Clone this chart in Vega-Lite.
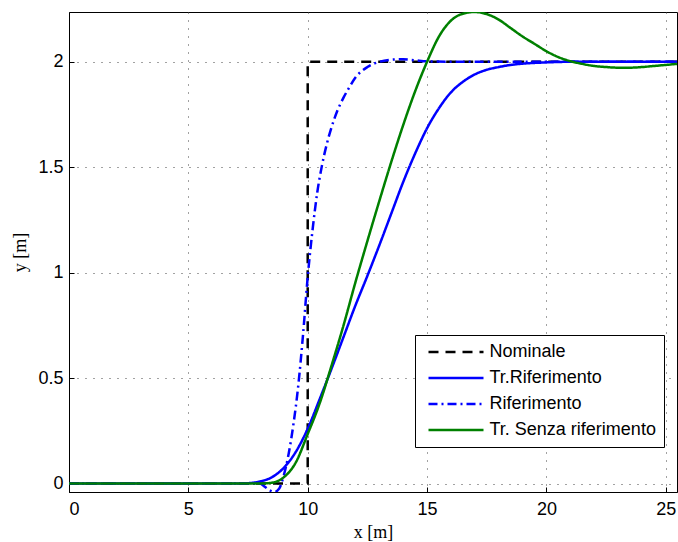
{
  "$schema": "https://vega.github.io/schema/vega-lite/v6.json",
  "width": 608,
  "height": 480,
  "autosize": "none",
  "padding": {"left": 69, "top": 12, "right": 1, "bottom": 50},
  "background": "white",
  "config": {
    "view": {"stroke": "black", "strokeWidth": 1},
    "font": "Liberation Sans",
    "legend": {
      "orient": "none", "legendX": 346, "legendY": 323,
      "strokeColor": "black", "fillColor": "white", "padding": 8,
      "labelFont": "Liberation Sans", "labelFontSize": 18, "labelColor": "black", "labelLimit": 400,
      "labelOffset": 52, "symbolOffset": -3.5,
      "symbolType": "M0,0H10", "symbolSize": 121, "symbolStrokeWidth": 2.5,
      "rowPadding": 8
    }
  },
  "data": {
    "values": [
      {"s": "Nominale", "x": 0, "y": 0},
      {"s": "Nominale", "x": 10, "y": 0},
      {"s": "Nominale", "x": 10, "y": 2},
      {"s": "Nominale", "x": 25.47, "y": 2},

      {"s": "Tr.Riferimento", "x": 0, "y": 0},
      {"s": "Tr.Riferimento", "x": 7, "y": 0},
      {"s": "Tr.Riferimento", "x": 7.5, "y": 0.002},
      {"s": "Tr.Riferimento", "x": 8, "y": 0.01},
      {"s": "Tr.Riferimento", "x": 8.5, "y": 0.03},
      {"s": "Tr.Riferimento", "x": 9, "y": 0.075},
      {"s": "Tr.Riferimento", "x": 9.5, "y": 0.15},
      {"s": "Tr.Riferimento", "x": 10, "y": 0.26},
      {"s": "Tr.Riferimento", "x": 10.5, "y": 0.4},
      {"s": "Tr.Riferimento", "x": 11, "y": 0.545},
      {"s": "Tr.Riferimento", "x": 11.5, "y": 0.695},
      {"s": "Tr.Riferimento", "x": 12, "y": 0.845},
      {"s": "Tr.Riferimento", "x": 12.5, "y": 0.985},
      {"s": "Tr.Riferimento", "x": 13, "y": 1.13},
      {"s": "Tr.Riferimento", "x": 13.5, "y": 1.28},
      {"s": "Tr.Riferimento", "x": 14, "y": 1.43},
      {"s": "Tr.Riferimento", "x": 14.5, "y": 1.565},
      {"s": "Tr.Riferimento", "x": 15, "y": 1.685},
      {"s": "Tr.Riferimento", "x": 15.5, "y": 1.78},
      {"s": "Tr.Riferimento", "x": 16, "y": 1.855},
      {"s": "Tr.Riferimento", "x": 16.5, "y": 1.905},
      {"s": "Tr.Riferimento", "x": 17, "y": 1.94},
      {"s": "Tr.Riferimento", "x": 17.5, "y": 1.962},
      {"s": "Tr.Riferimento", "x": 18, "y": 1.975},
      {"s": "Tr.Riferimento", "x": 18.5, "y": 1.985},
      {"s": "Tr.Riferimento", "x": 19, "y": 1.991},
      {"s": "Tr.Riferimento", "x": 20, "y": 1.997},
      {"s": "Tr.Riferimento", "x": 21, "y": 2.0},
      {"s": "Tr.Riferimento", "x": 25.47, "y": 2.0},

      {"s": "Riferimento", "x": 0, "y": 0},
      {"s": "Riferimento", "x": 8, "y": 0},
      {"s": "Riferimento", "x": 8.2, "y": -0.015},
      {"s": "Riferimento", "x": 8.4, "y": -0.032},
      {"s": "Riferimento", "x": 8.6, "y": -0.04},
      {"s": "Riferimento", "x": 8.8, "y": -0.025},
      {"s": "Riferimento", "x": 9, "y": 0.04},
      {"s": "Riferimento", "x": 9.2, "y": 0.14},
      {"s": "Riferimento", "x": 9.4, "y": 0.28},
      {"s": "Riferimento", "x": 9.6, "y": 0.46},
      {"s": "Riferimento", "x": 9.8, "y": 0.7},
      {"s": "Riferimento", "x": 10, "y": 0.98},
      {"s": "Riferimento", "x": 10.2, "y": 1.2},
      {"s": "Riferimento", "x": 10.4, "y": 1.38},
      {"s": "Riferimento", "x": 10.6, "y": 1.51},
      {"s": "Riferimento", "x": 10.8, "y": 1.61},
      {"s": "Riferimento", "x": 11, "y": 1.69},
      {"s": "Riferimento", "x": 11.25, "y": 1.77},
      {"s": "Riferimento", "x": 11.5, "y": 1.83},
      {"s": "Riferimento", "x": 11.75, "y": 1.88},
      {"s": "Riferimento", "x": 12, "y": 1.925},
      {"s": "Riferimento", "x": 12.5, "y": 1.975},
      {"s": "Riferimento", "x": 13, "y": 2.0},
      {"s": "Riferimento", "x": 13.5, "y": 2.01},
      {"s": "Riferimento", "x": 14, "y": 2.012},
      {"s": "Riferimento", "x": 14.5, "y": 2.007},
      {"s": "Riferimento", "x": 15, "y": 2.002},
      {"s": "Riferimento", "x": 16, "y": 2.0},
      {"s": "Riferimento", "x": 25.47, "y": 2.0},

      {"s": "Tr. Senza riferimento", "x": 0, "y": 0},
      {"s": "Tr. Senza riferimento", "x": 8, "y": 0},
      {"s": "Tr. Senza riferimento", "x": 8.5, "y": 0.004},
      {"s": "Tr. Senza riferimento", "x": 9, "y": 0.03},
      {"s": "Tr. Senza riferimento", "x": 9.5, "y": 0.1},
      {"s": "Tr. Senza riferimento", "x": 10, "y": 0.235},
      {"s": "Tr. Senza riferimento", "x": 10.5, "y": 0.38},
      {"s": "Tr. Senza riferimento", "x": 11, "y": 0.56},
      {"s": "Tr. Senza riferimento", "x": 11.5, "y": 0.75},
      {"s": "Tr. Senza riferimento", "x": 12, "y": 0.955},
      {"s": "Tr. Senza riferimento", "x": 12.5, "y": 1.15},
      {"s": "Tr. Senza riferimento", "x": 13, "y": 1.34},
      {"s": "Tr. Senza riferimento", "x": 13.5, "y": 1.525},
      {"s": "Tr. Senza riferimento", "x": 14, "y": 1.7},
      {"s": "Tr. Senza riferimento", "x": 14.5, "y": 1.86},
      {"s": "Tr. Senza riferimento", "x": 15, "y": 2.0},
      {"s": "Tr. Senza riferimento", "x": 15.5, "y": 2.12},
      {"s": "Tr. Senza riferimento", "x": 16, "y": 2.195},
      {"s": "Tr. Senza riferimento", "x": 16.5, "y": 2.228},
      {"s": "Tr. Senza riferimento", "x": 17, "y": 2.236},
      {"s": "Tr. Senza riferimento", "x": 17.5, "y": 2.226},
      {"s": "Tr. Senza riferimento", "x": 18, "y": 2.2},
      {"s": "Tr. Senza riferimento", "x": 18.5, "y": 2.16},
      {"s": "Tr. Senza riferimento", "x": 19, "y": 2.12},
      {"s": "Tr. Senza riferimento", "x": 19.5, "y": 2.085},
      {"s": "Tr. Senza riferimento", "x": 20, "y": 2.05},
      {"s": "Tr. Senza riferimento", "x": 20.5, "y": 2.022},
      {"s": "Tr. Senza riferimento", "x": 21, "y": 2.003},
      {"s": "Tr. Senza riferimento", "x": 21.5, "y": 1.99},
      {"s": "Tr. Senza riferimento", "x": 22, "y": 1.98},
      {"s": "Tr. Senza riferimento", "x": 22.5, "y": 1.975},
      {"s": "Tr. Senza riferimento", "x": 23, "y": 1.972},
      {"s": "Tr. Senza riferimento", "x": 23.5, "y": 1.972},
      {"s": "Tr. Senza riferimento", "x": 24, "y": 1.975},
      {"s": "Tr. Senza riferimento", "x": 24.5, "y": 1.98},
      {"s": "Tr. Senza riferimento", "x": 25, "y": 1.985},
      {"s": "Tr. Senza riferimento", "x": 25.47, "y": 1.99}
    ]
  },
  "encoding": {
    "x": {
      "field": "x", "type": "quantitative",
      "scale": {"domain": [0, 25.47], "nice": false, "zero": false},
      "axis": {
        "values": [0, 5, 10, 15, 20, 25],
        "title": "x [m]",
        "titleFont": "Liberation Serif", "titleFontSize": 18, "titleFontWeight": "normal", "titleColor": "black",
        "titlePadding": 5,
        "labelFont": "Liberation Sans", "labelFontSize": 18, "labelColor": "black", "labelPadding": 13,
        "domainColor": "black", "tickColor": "black", "tickSize": -5,
        "grid": true, "gridColor": "#444", "gridDash": [1, 7], "gridWidth": 1, "gridOpacity": 1
      }
    },
    "y": {
      "field": "y", "type": "quantitative",
      "scale": {"domain": [-0.04, 2.236], "nice": false, "zero": false},
      "axis": {
        "values": [0, 0.5, 1, 1.5, 2],
        "format": "~g",
        "title": "y [m]",
        "titleFont": "Liberation Serif", "titleFontSize": 18, "titleFontWeight": "normal", "titleColor": "black",
        "titlePadding": 8,
        "labelFont": "Liberation Sans", "labelFontSize": 18, "labelColor": "black", "labelPadding": 11,
        "domainColor": "black", "tickColor": "black", "tickSize": -5,
        "grid": true, "gridColor": "#444", "gridDash": [1, 7], "gridWidth": 1, "gridOpacity": 1
      }
    },
    "color": {
      "field": "s", "type": "nominal",
      "scale": {
        "domain": ["Nominale", "Tr.Riferimento", "Riferimento", "Tr. Senza riferimento"],
        "range": ["#000000", "#0000ff", "#0000ff", "#008000"]
      },
      "legend": {"title": null}
    },
    "strokeDash": {
      "field": "s", "type": "nominal",
      "scale": {
        "domain": ["Nominale", "Tr.Riferimento", "Riferimento", "Tr. Senza riferimento"],
        "range": [[10, 7], [1, 0], [9, 4, 2, 4], [1, 0]]
      },
      "legend": {"title": null}
    }
  },
  "layer": [
    {
      "transform": [{"filter": "datum.s === 'Nominale'"}],
      "mark": {"type": "line", "strokeWidth": 2.5, "clip": true}
    },
    {
      "transform": [{"filter": "datum.s !== 'Nominale'"}],
      "mark": {"type": "line", "strokeWidth": 2.5, "clip": true, "interpolate": "monotone"}
    }
  ]
}
